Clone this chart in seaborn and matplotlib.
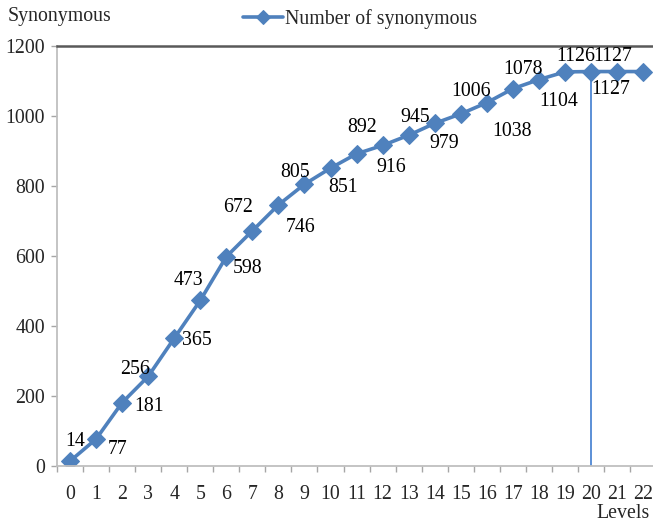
import matplotlib
matplotlib.use("Agg")
import matplotlib.pyplot as plt
import seaborn as sns
import pandas as pd
from matplotlib.ticker import MultipleLocator, FixedLocator

levels = list(range(23))
values = [14, 77, 181, 256, 365, 473, 598, 672, 746, 805, 851, 892, 916,
          945, 979, 1006, 1038, 1078, 1104, 1126, 1127, 1127, 1127]
labels = [str(v) for v in values[:22]]  # last point carries no label
series_name = "Number of synonymous"
y_title = "Synonymous"
x_title = "Levels"
marked_level = 20

# label offsets in pixels (dx, dy with dy positive = up)
label_offsets = [(5, 20), (22, -10), (27, -4), (-13, 7), (23, -2), (-12, 20),
                 (21, -12), (-14, 23), (22, -23), (-9, 12), (13, -19), (6, 26),
                 (9, -22), (7, 18), (9, -20), (10, 22), (25, -29), (10, 19),
                 (20, -22), (11, 15), (20, -18), (-4, 15)]

sns.set_theme(style="white")
plt.rcParams['font.family'] = ['Liberation Serif', 'DejaVu Serif']

blue = "#4F81BD"
fs = 14.3

fig = plt.figure(figsize=(6.53, 5.28), dpi=100)
ax = fig.add_axes([57/653, 62/528, 1 - 57/653, 420/528])

df = pd.DataFrame({"level": levels, "value": values})
sns.lineplot(data=df, x="level", y="value", ax=ax, color=blue, marker="D",
             markersize=9.5, linewidth=2.6, markeredgecolor=blue, label=series_name,
             legend=False)

ax.vlines(marked_level, 0, values[marked_level], color="#5B8FD6", linewidth=1.4, zorder=1)

for i, lab in enumerate(labels):
    dx, dy = label_offsets[i]
    ax.annotate(lab, (levels[i], values[i]), xytext=(dx, dy), textcoords="offset pixels",
                ha="center", va="center", fontsize=fs, color="black")

ax.set_xlim(-0.5, (653 - 70) / 26.05)
ax.set_ylim(0, 1200)
ax.xaxis.set_major_locator(FixedLocator(levels))
ax.set_xticklabels([str(l) for l in levels])
ax.xaxis.set_minor_locator(FixedLocator([l + 0.5 for l in range(-1, 23)]))
ax.yaxis.set_major_locator(MultipleLocator(200))
ax.tick_params(axis="x", which="major", length=0, pad=14, labelsize=fs)
ax.tick_params(axis="x", which="minor", length=4.5, width=1, color="#A6A6A6", bottom=True)
ax.tick_params(axis="y", which="major", length=4.5, width=1, color="#A6A6A6", pad=4, labelsize=fs, left=True)
ax.set_xlabel("")
ax.set_ylabel("")

for s in ["left", "bottom"]:
    ax.spines[s].set_color("#BFBFBF")
    ax.spines[s].set_linewidth(1.3)
ax.spines["top"].set_color("#595959")
ax.spines["top"].set_linewidth(1.8)
ax.spines["right"].set_visible(False)

fig.text(8/653, 1 - 17/528, y_title, ha="left", va="center", fontsize=fs)
fig.text(650/653, 1 - 513/528, x_title, ha="right", va="center", fontsize=fs)

h, l = ax.get_legend_handles_labels()
fig.legend(h, l, loc="center", bbox_to_anchor=(360/653, 1 - 19/528), frameon=False,
           fontsize=fs, handlelength=2.0, handletextpad=0.1, markerscale=0.7)

fig.savefig("out.png", dpi=100)
